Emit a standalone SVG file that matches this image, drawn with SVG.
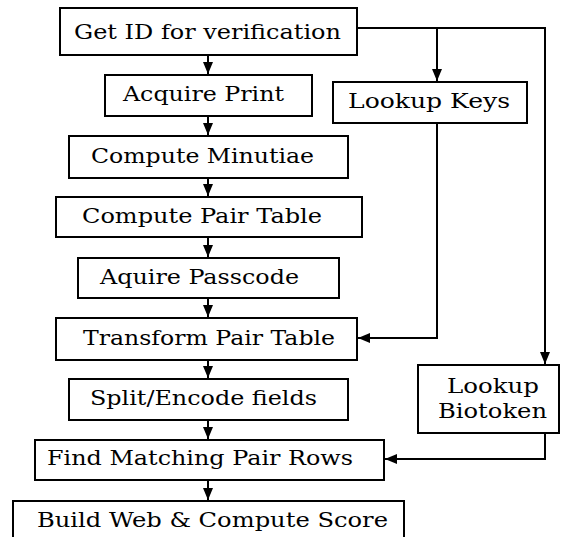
<svg xmlns="http://www.w3.org/2000/svg" width="561" height="537" viewBox="0 0 561 537">
  <style>
    .box { fill: #fff; stroke: #000; stroke-width: 2; }
    .lbl { font-family: "DejaVu Serif", "Liberation Serif", serif; font-size: 20px; fill: #000; }
    .wire { fill: none; stroke: #000; stroke-width: 2; }
  </style>
  <defs>
    <marker id="head" markerUnits="userSpaceOnUse" markerWidth="12" markerHeight="10" viewBox="0 0 12 10" refX="12" refY="5" orient="auto">
      <path d="M0,0 L12,5 L0,10 Z" fill="#000"/>
    </marker>
  </defs>
  <rect width="561" height="537" fill="#fff"/>

  <g id="connectors">
    <!-- main vertical flow -->
    <line class="wire" x1="208" y1="55" x2="208" y2="74" marker-end="url(#head)"/>
    <line class="wire" x1="208" y1="116" x2="208" y2="135" marker-end="url(#head)"/>
    <line class="wire" x1="208" y1="178" x2="208" y2="196" marker-end="url(#head)"/>
    <line class="wire" x1="208" y1="237" x2="208" y2="257" marker-end="url(#head)"/>
    <line class="wire" x1="208" y1="298" x2="208" y2="317" marker-end="url(#head)"/>
    <line class="wire" x1="208" y1="360" x2="208" y2="378" marker-end="url(#head)"/>
    <line class="wire" x1="208" y1="420" x2="208" y2="439" marker-end="url(#head)"/>
    <line class="wire" x1="208" y1="480" x2="208" y2="500" marker-end="url(#head)"/>
    <!-- ID fan-out to the lookups -->
    <polyline class="wire" points="357,28 545,28 545,364" marker-end="url(#head)"/>
    <line class="wire" x1="437" y1="28" x2="437" y2="81" marker-end="url(#head)"/>
    <!-- keys into the transform -->
    <polyline class="wire" points="437,123 437,338 358,338" marker-end="url(#head)"/>
    <!-- biotoken into the matcher -->
    <polyline class="wire" points="545,433 545,459 385,459" marker-end="url(#head)"/>
  </g>

  <g id="get-id">
    <rect class="box" x="60" y="8" width="297" height="47"/>
    <text class="lbl" x="74" y="39" textLength="267" lengthAdjust="spacingAndGlyphs">Get ID for verification</text>
  </g>
  <g id="acquire-print">
    <rect class="box" x="105" y="75" width="207" height="41"/>
    <text class="lbl" x="123" y="101" textLength="161" lengthAdjust="spacingAndGlyphs">Acquire Print</text>
  </g>
  <g id="compute-minutiae">
    <rect class="box" x="69" y="136" width="279" height="42"/>
    <text class="lbl" x="91" y="163" textLength="223" lengthAdjust="spacingAndGlyphs">Compute Minutiae</text>
  </g>
  <g id="compute-pair-table">
    <rect class="box" x="56" y="197" width="306" height="40"/>
    <text class="lbl" x="82" y="223" textLength="240" lengthAdjust="spacingAndGlyphs">Compute Pair Table</text>
  </g>
  <g id="aquire-passcode">
    <rect class="box" x="78" y="258" width="261" height="40"/>
    <text class="lbl" x="100" y="284" textLength="199" lengthAdjust="spacingAndGlyphs">Aquire Passcode</text>
  </g>
  <g id="transform-pair-table">
    <rect class="box" x="56" y="318" width="301" height="42"/>
    <text class="lbl" x="83" y="345" textLength="252" lengthAdjust="spacingAndGlyphs">Transform Pair Table</text>
  </g>
  <g id="split-encode">
    <rect class="box" x="69" y="379" width="279" height="41"/>
    <text class="lbl" x="90" y="405" textLength="227" lengthAdjust="spacingAndGlyphs">Split/Encode fields</text>
  </g>
  <g id="find-matching">
    <rect class="box" x="35" y="440" width="349" height="40"/>
    <text class="lbl" x="47" y="465" textLength="306" lengthAdjust="spacingAndGlyphs">Find Matching Pair Rows</text>
  </g>
  <g id="build-web">
    <rect class="box" x="13" y="501" width="391" height="50"/>
    <text class="lbl" x="37" y="527" textLength="351" lengthAdjust="spacingAndGlyphs">Build Web &amp; Compute Score</text>
  </g>
  <g id="lookup-keys">
    <rect class="box" x="333" y="82" width="194" height="41"/>
    <text class="lbl" x="348" y="108" textLength="162" lengthAdjust="spacingAndGlyphs">Lookup Keys</text>
  </g>
  <g id="lookup-biotoken">
    <rect class="box" x="418" y="365" width="141" height="68"/>
    <text class="lbl" x="447" y="393" textLength="92" lengthAdjust="spacingAndGlyphs">Lookup</text>
    <text class="lbl" x="438" y="418" textLength="109" lengthAdjust="spacingAndGlyphs">Biotoken</text>
  </g>
</svg>
